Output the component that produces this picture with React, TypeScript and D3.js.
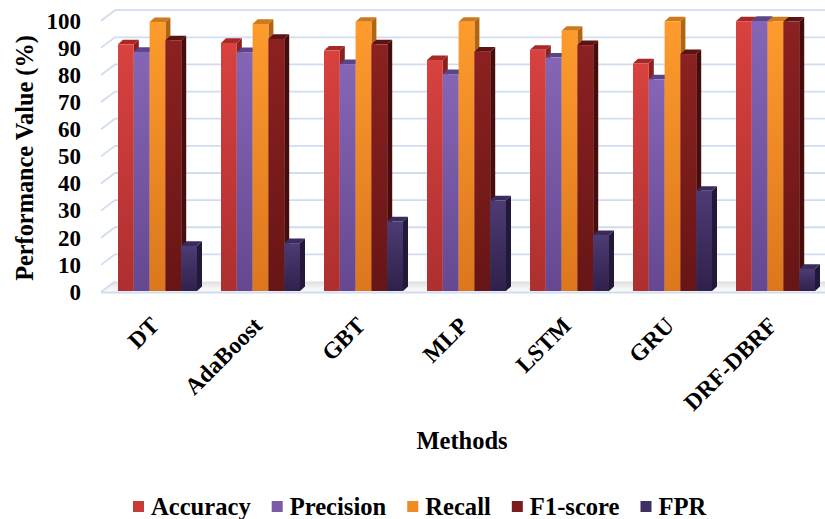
import React, { useEffect, useRef } from "react";
import * as d3 from "d3";

const categories = ["DT", "AdaBoost", "GBT", "MLP", "LSTM", "GRU", "DRF-DBRF"];
const seriesNames = ["Accuracy", "Precision", "Recall", "F1-score", "FPR"];
const accuracy = [91.3, 91.8, 89, 85.5, 89.3, 84.3, 99.8];
const precision = [88.5, 88.4, 84, 80.3, 86.4, 78.4, 99.9];
const recall = [99.5, 98.8, 99.6, 99.6, 96.3, 99.8, 99.8];
const f1score = [92.8, 93.3, 91.3, 88.6, 91, 87.7, 99.7];
const fpr = [17, 18, 26, 33.8, 21, 37.3, 8.5];
const yTicks = [0, 10, 20, 30, 40, 50, 60, 70, 80, 90, 100];

const seriesValues = [accuracy, precision, recall, f1score, fpr];

const palette = [
  { top: "#d8423f", bottom: "#ad2f2f", cap: "#a82828", side: "#8a2020", legend: "#c83a37" },
  { top: "#8566b6", bottom: "#654891", cap: "#5c4489", side: "#4d3874", legend: "#7b5aa8" },
  { top: "#fd9b2d", bottom: "#dc771d", cap: "#cd7a1a", side: "#b2640f", legend: "#f08a22" },
  { top: "#8c2121", bottom: "#671515", cap: "#5e1212", side: "#480c0c", legend: "#7c1b1b" },
  { top: "#4d3b74", bottom: "#2f214b", cap: "#3a2b5c", side: "#22183a", legend: "#3f2f63" },
];

const W = 825;
const H = 519;
const FONT = "'Liberation Serif', 'Times New Roman', serif";

export default function App() {
  const ref = useRef<SVGSVGElement | null>(null);

  useEffect(() => {
    const svg = d3.select(ref.current);
    svg.selectAll("*").remove();

    const yFront = d3.scaleLinear().domain([0, 100]).range([292, 20.7]);
    const wallDx = 14;
    const wallDy = -10.5;
    const sideX0 = 101;
    const rightX = 825;

    const x0 = d3.scaleBand<string>().domain(categories).range([106, 827]).paddingInner(0.233).paddingOuter(0.1165);
    const x1 = d3.scaleBand<string>().domain(seriesNames).range([0, x0.bandwidth()]).padding(0);

    const defs = svg.append("defs");
    palette.forEach((p, i) => {
      const g = defs.append("linearGradient").attr("id", `g${i}`).attr("x1", 0).attr("y1", 0).attr("x2", 0).attr("y2", 1);
      g.append("stop").attr("offset", "0%").attr("stop-color", p.top);
      g.append("stop").attr("offset", "100%").attr("stop-color", p.bottom);
    });
    const fg = defs.append("linearGradient").attr("id", "floor").attr("x1", 0).attr("y1", 0).attr("x2", 0).attr("y2", 1);
    fg.append("stop").attr("offset", "0%").attr("stop-color", "#dedede");
    fg.append("stop").attr("offset", "60%").attr("stop-color", "#f4f4f4");
    fg.append("stop").attr("offset", "100%").attr("stop-color", "#fcfcfc");

    // gridlines: side wall + back wall
    const grid = svg.append("g");
    yTicks.slice(1).forEach((t) => {
      const yf = yFront(t);
      const yb = yf + wallDy;
      grid
        .append("polyline")
        .attr("points", `${sideX0},${yf} ${sideX0 + wallDx},${yb} ${rightX},${yb}`)
        .attr("fill", "none")
        .attr("stroke", "#d0ddf0")
        .attr("stroke-width", 1.8);
    });

    // floor
    const yf0 = yFront(0);
    svg
      .append("polygon")
      .attr("points", `${sideX0},${yf0} ${sideX0 + wallDx},${yf0 + wallDy} ${rightX},${yf0 + wallDy} ${rightX},${yf0}`)
      .attr("fill", "url(#floor)");
    svg
      .append("line")
      .attr("x1", sideX0)
      .attr("x2", rightX)
      .attr("y1", yf0 + 0.5)
      .attr("y2", yf0 + 0.5)
      .attr("stroke", "#d0ddf0")
      .attr("stroke-width", 2);
    svg
      .append("line")
      .attr("x1", sideX0)
      .attr("y1", yf0)
      .attr("x2", sideX0 + wallDx)
      .attr("y2", yf0 + wallDy)
      .attr("stroke", "#d0ddf0")
      .attr("stroke-width", 1.8);

    // bars
    const depthX = 5;
    const depthY = -4.6;
    const bars = svg.append("g");
    categories.forEach((cat, ci) => {
      seriesNames.forEach((s, si) => {
        const v = seriesValues[si][ci];
        const p = palette[si];
        const bx = (x0(cat) as number) + (x1(s) as number);
        const bw = x1.bandwidth();
        const yb = yFront(0) - 1;
        const yt = yFront(v);
        bars
          .append("polygon")
          .attr("points", `${bx + bw},${yt} ${bx + bw + depthX},${yt + depthY} ${bx + bw + depthX},${yb + depthY} ${bx + bw},${yb}`)
          .attr("fill", p.side);
        bars
          .append("polygon")
          .attr("points", `${bx},${yt} ${bx + depthX},${yt + depthY} ${bx + bw + depthX},${yt + depthY} ${bx + bw},${yt}`)
          .attr("fill", p.cap);
        bars
          .append("rect")
          .attr("x", bx)
          .attr("y", yt)
          .attr("width", bw)
          .attr("height", yb - yt)
          .attr("fill", `url(#g${si})`);
      });
    });

    // y tick labels
    const yAxis = svg.append("g").attr("font-family", FONT).attr("font-weight", "bold").attr("font-size", 23).attr("fill", "#000");
    yTicks.forEach((t) => {
      yAxis
        .append("text")
        .attr("x", 81)
        .attr("y", yFront(t))
        .attr("dy", "0.34em")
        .attr("text-anchor", "end")
        .text(String(t));
    });

    // y title
    svg
      .append("text")
      .attr("transform", `translate(33,158) rotate(-90)`)
      .attr("text-anchor", "middle")
      .attr("font-family", FONT)
      .attr("font-weight", "bold")
      .attr("font-size", 24.3)
      .text("Performance Value (%)");

    // x labels
    const xl = svg.append("g").attr("font-family", FONT).attr("font-weight", "bold").attr("font-size", 23.5);
    categories.forEach((cat) => {
      const cx = (x0(cat) as number) + x0.bandwidth() / 2;
      xl.append("text")
        .attr("transform", `translate(${cx + 3},327) rotate(-45)`)
        .attr("text-anchor", "end")
        .text(cat);
    });

    // x title
    svg
      .append("text")
      .attr("x", 462)
      .attr("y", 449)
      .attr("text-anchor", "middle")
      .attr("font-family", FONT)
      .attr("font-weight", "bold")
      .attr("font-size", 24.5)
      .text("Methods");

    // legend
    const lg = svg.append("g").attr("font-family", FONT).attr("font-weight", "bold").attr("font-size", 24.6);
    let lx = 133;
    seriesNames.forEach((s, si) => {
      lg.append("rect").attr("x", lx).attr("y", 501).attr("width", 11).attr("height", 11).attr("fill", palette[si].legend);
      const t = lg.append("text").attr("x", lx + 18).attr("y", 515).text(s);
      const w = (t.node() as SVGTextElement).getComputedTextLength();
      lx = lx + 18 + w + 21;
    });
  }, []);

  return (
    <svg
      ref={ref}
      width={W}
      height={H}
      style={{ position: "absolute", left: 0, top: 0, background: "#fff" }}
    />
  );
}
